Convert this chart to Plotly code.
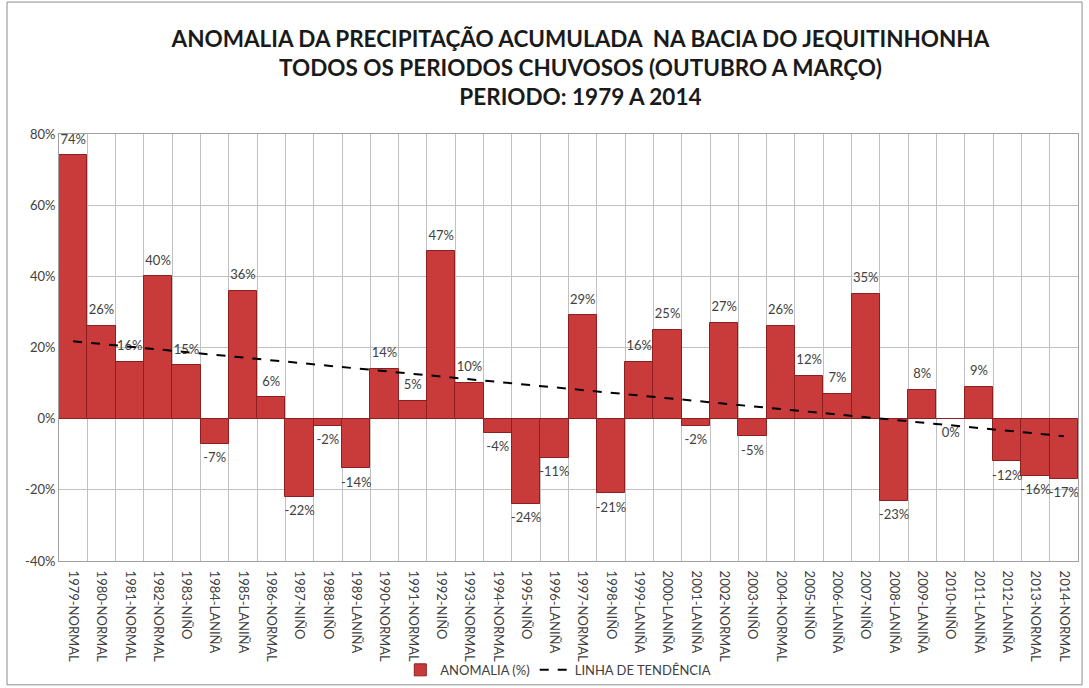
import numpy as np
import plotly.graph_objects as go

categories = ["1979-NORMAL", "1980-NORMAL", "1981-NORMAL", "1982-NORMAL", "1983-NIÑO", "1984-LANIÑA",
              "1985-LANIÑA", "1986-NORMAL", "1987-NIÑO", "1988-NIÑO", "1989-LANIÑA", "1990-NORMAL",
              "1991-NORMAL", "1992-NIÑO", "1993-NORMAL", "1994-NORMAL", "1995-NIÑO", "1996-LANIÑA",
              "1997-NORMAL", "1998-NIÑO", "1999-LANIÑA", "2000-LANIÑA", "2001-LANIÑA", "2002-NORMAL",
              "2003-NIÑO", "2004-NORMAL", "2005-NIÑO", "2006-LANIÑA", "2007-NIÑO", "2008-LANIÑA",
              "2009-LANIÑA", "2010-NIÑO", "2011-LANIÑA", "2012-LANIÑA", "2013-NORMAL", "2014-NORMAL"]
anomalia = [74, 26, 16, 40, 15, -7, 36, 6, -22, -2, -14, 14, 5, 47, 10, -4, -24, -11,
            29, -21, 16, 25, -2, 27, -5, 26, 12, 7, 35, -23, 8, 0, 9, -12, -16, -17]
y_ticks = [-40, -20, 0, 20, 40, 60, 80]
y_tick_labels = ["-40%", "-20%", "0%", "20%", "40%", "60%", "80%"]

x = np.arange(len(categories))
vals = np.array(anomalia, dtype=float)
slope, intercept = np.polyfit(x, vals, 1)
trend = slope * x + intercept

FONT = "Lato, Open Sans, sans-serif"

fig = go.Figure()
fig.add_trace(go.Bar(
    x=x, y=vals, name="ANOMALIA (%)",
    marker=dict(color="#C93B3B", line=dict(color="#8E1F1F", width=1)),
    width=1.0, hoverinfo="y",
))
fig.add_trace(go.Scatter(
    x=x, y=vals, mode="markers+text",
    marker=dict(size=12, opacity=0, color="white"),
    text=[f"{v:d}%" for v in anomalia],
    textposition=["top center" if v > 0 else "bottom center" for v in anomalia],
    textfont=dict(family=FONT, size=13, color="#404040"),
    showlegend=False, hoverinfo="skip", cliponaxis=False,
))
fig.add_trace(go.Scatter(
    x=x, y=trend, mode="lines", name="LINHA DE TENDÊNCIA",
    line=dict(color="black", width=2, dash="dash"),
))

fig.update_layout(
    width=1089, height=688,
    paper_bgcolor="white", plot_bgcolor="white",
    margin=dict(l=59, r=11, t=134, b=127, autoexpand=False),
    font=dict(family=FONT, size=12, color="#404040"),
    title=dict(
        text="ANOMALIA DA PRECIPITAÇÃO ACUMULADA  NA BACIA DO JEQUITINHONHA<br>"
             "TODOS OS PERIODOS CHUVOSOS (OUTUBRO A MARÇO)<br>PERIODO: 1979 A 2014",
        x=0.533, xanchor="center", y=0.932, yanchor="top",
        font=dict(family=FONT, size=22.5, color="#1a1a1a", weight="bold"),
    ),
    bargap=0,
    showlegend=True,
    legend=dict(orientation="h", x=0.49, xanchor="center", y=-0.255, yanchor="middle",
                font=dict(size=13, color="#404040"), bgcolor="rgba(0,0,0,0)"),
    shapes=[dict(type="rect", xref="paper", yref="paper", x0=-0.051, x1=1.004, y0=-0.29, y1=1.309,
                 line=dict(color="#8c8c8c", width=1), layer="below")],
)
fig.update_xaxes(
    range=[-0.5, len(categories) - 0.5],
    tickmode="array", tickvals=x, ticktext=categories, tickangle=90,
    showgrid=False, ticks="", showline=True, linecolor="#a0a0a0", mirror=True,
    tickfont=dict(family=FONT, size=13, color="#404040"), ticklabelstandoff=6,
    minor=dict(tickmode="linear", tick0=-0.5, dtick=1, showgrid=True, gridcolor="#c0c0c0", gridwidth=1),
    zeroline=False, automargin=False,
)
fig.update_yaxes(
    range=[-40, 80], tickmode="array", tickvals=y_ticks, ticktext=y_tick_labels,
    showgrid=True, gridcolor="#c0c0c0", gridwidth=1,
    showline=True, linecolor="#a0a0a0", mirror=True, zeroline=False,
    tickfont=dict(family=FONT, size=13, color="#404040"), automargin=False,
)

fig.write_html("out.html", config={"displayModeBar": False},
               post_script="document.body.style.margin='0';document.body.style.overflow='hidden';")
